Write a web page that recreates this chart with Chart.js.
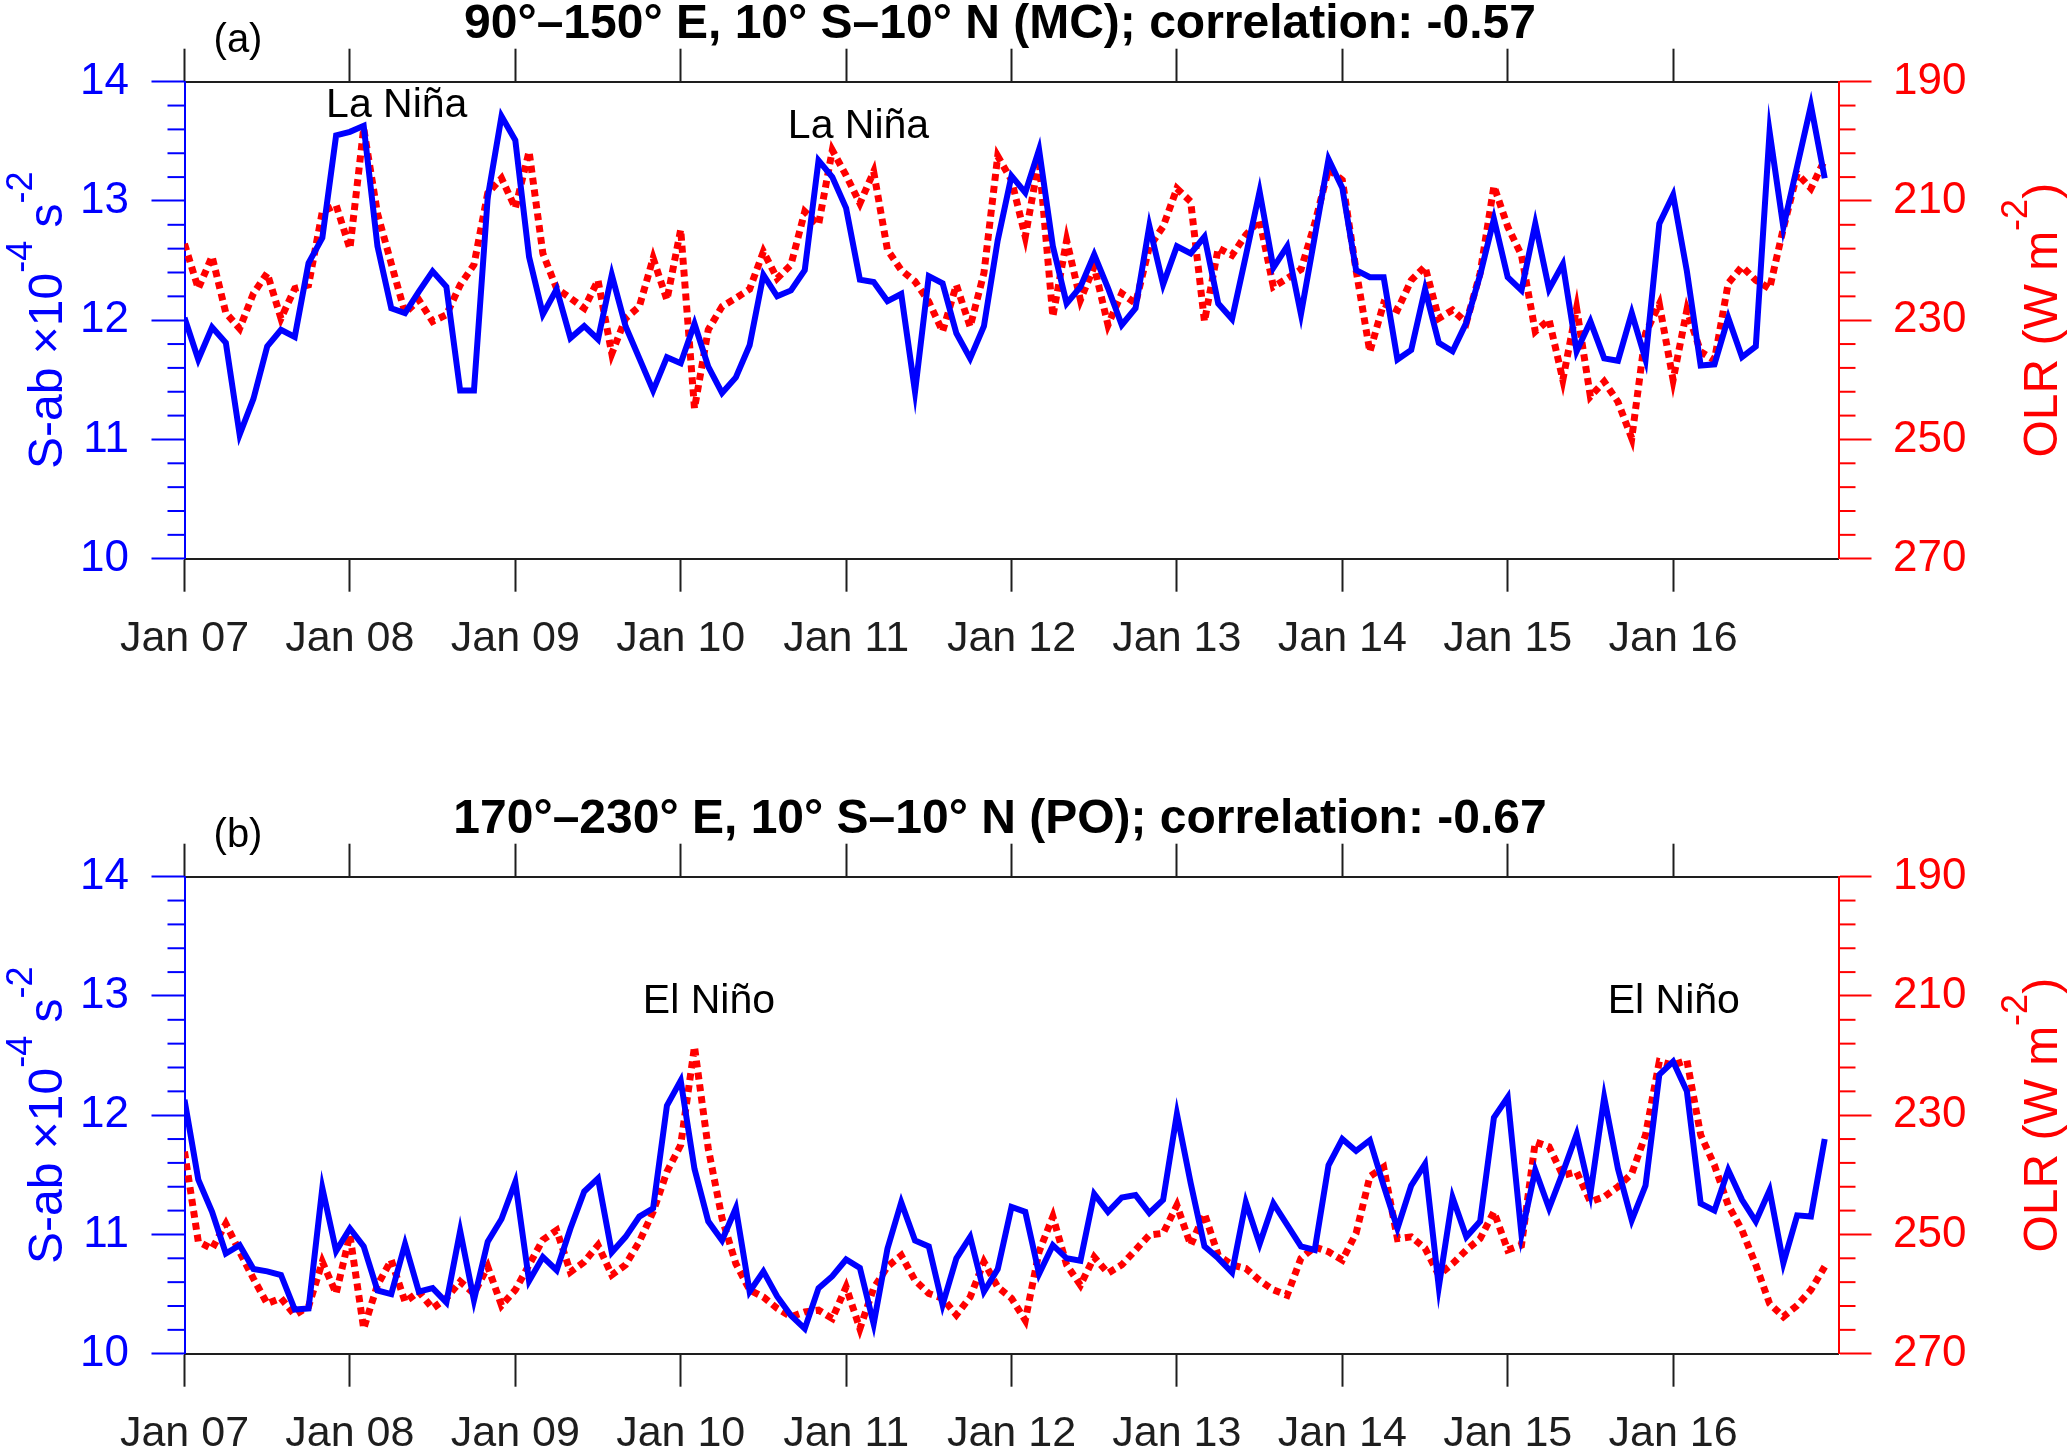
<!DOCTYPE html>
<html><head><meta charset="utf-8">
<script src="https://cdn.jsdelivr.net/npm/chart.js@4.4.1/dist/chart.umd.min.js"></script>
<style>
html,body{margin:0;padding:0;background:#fff;width:2067px;height:1450px;overflow:hidden;}
.panel{position:absolute;left:0;}
canvas{display:block;}
</style></head><body>
<div class="panel" style="top:0px"><canvas id="cA" width="2067" height="795"></canvas></div>
<div class="panel" style="top:795px"><canvas id="cB" width="2067" height="655"></canvas></div>
<script>
// ---------------- DATA ----------------
const tickMonths = [0, 12, 24, 36, 48, 60, 72, 84, 96, 108];
const tickLabels = ['Jan 07','Jan 08','Jan 09','Jan 10','Jan 11','Jan 12','Jan 13','Jan 14','Jan 15','Jan 16'];

// Panel (a): 90-150E, 10S-10N (MC), monthly Jan 2007 - Dec 2016
const saMC = [
 12.02,11.67,11.94,11.81,11.04,11.34,11.78,11.92,11.86,12.48,12.69,13.55,
 13.58,13.63,12.62,12.10,12.06,12.24,12.41,12.28,11.41,11.41,13.03,13.71,
 13.51,12.53,12.05,12.26,11.85,11.95,11.84,12.38,11.95,11.68,11.41,11.69,
 11.64,11.97,11.61,11.39,11.52,11.79,12.38,12.20,12.25,12.42,13.34,13.20,
 12.94,12.34,12.32,12.16,12.22,11.40,12.37,12.31,11.89,11.68,11.95,12.67,
 13.21,13.07,13.43,12.62,12.14,12.28,12.55,12.27,11.96,12.10,12.79,12.30,
 12.62,12.56,12.70,12.14,12.01,12.54,13.08,12.44,12.62,12.05,12.70,13.35,
 13.11,12.42,12.36,12.36,11.67,11.75,12.26,11.81,11.74,11.98,12.38,12.85,
 12.36,12.25,12.81,12.26,12.47,11.74,11.99,11.68,11.66,12.06,11.67,12.81,
 13.05,12.41,11.62,11.63,12.02,11.69,11.78,13.58,12.78,13.29,13.80,13.19
];
const olrMC = [
 217.2,224.7,219.3,228.8,231.4,225.5,222.1,229.7,224.7,224.1,211.8,210.7,
 218.0,197.8,212.1,220.5,228.8,226.6,230.2,229.1,224.1,220.7,208.7,206.2,
 211.2,201.7,218.8,224.7,226.3,228.0,223.3,235.6,229.7,227.7,219.6,226.6,
 214.8,244.8,231.6,227.7,226.3,224.8,218.5,223.0,220.7,211.8,214.0,201.5,
 205.7,210.4,205.1,218.2,221.6,223.5,226.9,231.9,224.1,231.1,222.1,202.5,
 206.5,216.0,203.1,229.4,216.6,226.6,221.0,230.8,225.5,227.2,217.7,214.3,
 207.9,210.1,230.2,217.9,219.1,215.7,213.2,224.4,223.0,221.5,213.8,204.7,
 206.5,221.6,235.3,227.2,228.3,223.3,221.0,229.7,228.3,230.4,222.1,207.5,
 214.3,219.1,231.9,229.9,240.0,228.0,242.8,240.3,243.7,249.8,232.2,227.3,
 240.0,228.3,235.3,236.7,223.8,221.0,223.3,224.7,214.6,205.4,207.9,203.1
];

// Panel (b): 170-230E, 10S-10N (PO)
const saPO = [
 12.13,11.46,11.19,10.84,10.91,10.71,10.69,10.66,10.37,10.38,11.39,10.86,
 11.05,10.90,10.53,10.50,10.92,10.52,10.55,10.43,11.03,10.45,10.94,11.13,
 11.44,10.61,10.81,10.70,11.05,11.36,11.47,10.85,10.98,11.15,11.22,12.08,
 12.29,11.55,11.11,10.95,11.22,10.52,10.69,10.48,10.32,10.21,10.55,10.65,
 10.79,10.72,10.25,10.88,11.27,10.95,10.90,10.41,10.80,10.98,10.52,10.71,
 11.23,11.19,10.67,10.91,10.80,10.78,11.34,11.19,11.31,11.33,11.18,11.29,
 12.01,11.43,10.90,10.80,10.68,11.27,10.92,11.26,11.08,10.90,10.87,11.58,
 11.80,11.70,11.79,11.41,11.05,11.41,11.59,10.56,11.31,10.98,11.11,11.98,
 12.15,11.00,11.54,11.22,11.52,11.84,11.34,12.15,11.55,11.12,11.41,12.34,
 12.45,12.20,11.26,11.20,11.54,11.29,11.11,11.37,10.76,11.16,11.15,11.80
];
const olrPO = [
 236.1,251.2,252.4,248.2,252.9,257.4,261.6,260.7,263.5,262.1,254.6,259.9,
 250.1,265.8,258.5,254.3,261.3,259.6,262.4,260.7,257.9,259.9,255.4,261.9,
 259.3,255.1,250.9,249.3,256.3,254.6,251.8,256.8,255.1,251.2,246.2,239.5,
 235.0,218.5,235.6,247.3,254.9,259.3,260.5,262.4,263.8,263.0,262.7,264.1,
 258.8,265.8,259.0,255.4,253.5,257.7,259.9,260.7,263.5,260.5,254.6,258.8,
 260.7,264.4,252.9,247.0,255.1,258.5,253.8,256.5,255.1,252.6,250.1,249.8,
 245.1,251.8,246.5,253.5,255.1,255.7,257.7,259.3,260.2,254.0,252.1,252.9,
 254.3,249.8,240.3,238.7,250.7,250.4,252.3,256.8,254.9,252.6,250.7,246.2,
 252.6,251.8,234.5,235.3,240.1,239.5,244.5,243.7,242.0,239.8,233.3,221.0,
 221.6,220.8,233.3,238.4,245.1,249.3,255.1,261.6,263.8,261.9,259.3,255.4
];

const titleA = '90\u00b0\u2013150\u00b0 E, 10\u00b0 S\u201310\u00b0 N (MC); correlation: -0.57';
const titleB = '170\u00b0\u2013230\u00b0 E, 10\u00b0 S\u201310\u00b0 N (PO); correlation: -0.67';
const notesA = [{text:'La Ni\u00f1a', x:15.4, y:13.70}, {text:'La Ni\u00f1a', x:48.9, y:13.53}];
const notesB = [{text:'El Ni\u00f1o', x:38.05, y:12.86}, {text:'El Ni\u00f1o', x:108.05, y:12.86}];

// ---------------- STYLE ----------------
const FONT = '"Liberation Sans", Arial, Helvetica, sans-serif';
const BLUE = '#0000ff', RED = '#ff0000', INK = '#1e1e1e';

function drawRich(ctx, parts, mainSize, supSize, rise) {
  let total = 0;
  parts.forEach(p => {
    ctx.font = (p.sup ? supSize : mainSize) + 'px ' + FONT;
    p.w = ctx.measureText(p.t).width; total += p.w;
  });
  let x = -total / 2;
  parts.forEach(p => {
    ctx.font = (p.sup ? supSize : mainSize) + 'px ' + FONT;
    ctx.fillText(p.t, x, p.sup ? -rise : 0);
    x += p.w;
  });
}

const decorPlugin = {
  id: 'decor',
  afterDraw(chart, args, opts) {
    const ctx = chart.ctx;
    const ys = chart.scales.y, yr = chart.scales.y2, xs = chart.scales.x;
    const ca = chart.chartArea;
    ctx.save();
    // minor ticks
    ctx.lineWidth = 2; ctx.strokeStyle = BLUE;
    for (let k = 0; k <= 20; k++) {
      if (k % 5 === 0) continue;
      const py = ys.getPixelForValue(10 + k * 0.2);
      ctx.beginPath(); ctx.moveTo(ca.left - 17, py); ctx.lineTo(ca.left, py); ctx.stroke();
    }
    ctx.strokeStyle = RED;
    for (let k = 0; k <= 20; k++) {
      if (k % 5 === 0) continue;
      const py = yr.getPixelForValue(190 + k * 4);
      ctx.beginPath(); ctx.moveTo(ca.right, py); ctx.lineTo(ca.right + 17, py); ctx.stroke();
    }
    // title and panel tag
    ctx.fillStyle = '#000';
    ctx.textAlign = 'center'; ctx.textBaseline = 'alphabetic';
    ctx.font = 'bold 48px ' + FONT;
    ctx.fillText(opts.title, 1000, 38);
    ctx.font = '40px ' + FONT;
    ctx.fillText(opts.tag, 238, 52);
    // annotations (anchored in data coordinates)
    ctx.font = '41px ' + FONT;
    opts.notes.forEach(n => {
      ctx.fillText(n.text, xs.getPixelForValue(n.x), ys.getPixelForValue(n.y));
    });
    // axis titles
    const cy = (ca.top + ca.bottom) / 2;
    ctx.textAlign = 'left';
    ctx.save();
    ctx.fillStyle = BLUE;
    ctx.translate(62, cy); ctx.rotate(-Math.PI / 2);
    drawRich(ctx, [{t:'S-ab \u00d710'},{t:'-4',sup:true},{t:' s'},{t:'-2',sup:true}], 48, 36, 30);
    ctx.restore();
    ctx.save();
    ctx.fillStyle = RED;
    ctx.translate(2057, cy); ctx.rotate(-Math.PI / 2);
    drawRich(ctx, [{t:'OLR (W m'},{t:'-2',sup:true},{t:')'}], 48, 36, 30);
    ctx.restore();
    ctx.restore();
  }
};

function xTicks(scale) { scale.ticks = tickMonths.map(v => ({value: v})); }

function makeChart(id, sa, olr, title, tag, notes, H) {
  const months = sa.map((_, i) => i);
  return new Chart(document.getElementById(id), {
    type: 'line',
    data: {
      datasets: [
        { label: 'OLR', data: months.map(i => ({x: i, y: olr[i]})), yAxisID: 'y2', xAxisID: 'x',
          borderColor: RED, borderWidth: 7, borderDash: [7, 5], borderCapStyle: 'butt',
          pointRadius: 0, tension: 0, fill: false, order: 2 },
        { label: 'S-ab', data: months.map(i => ({x: i, y: sa[i]})), yAxisID: 'y', xAxisID: 'x',
          borderColor: BLUE, borderWidth: 6, borderJoinStyle: 'miter',
          pointRadius: 0, tension: 0, fill: false, order: 1 }
      ]
    },
    options: {
      responsive: false, animation: false, devicePixelRatio: 1,
      layout: { padding: { left: 0, right: 0, top: 48.7, bottom: H - 558.7 - 96.3 } },
      plugins: { legend: { display: false }, tooltip: { enabled: false },
                 decor: { title: title, tag: tag, notes: notes } },
      scales: {
        x: { type: 'linear', position: 'bottom', min: 0, max: 120,
             afterBuildTicks: xTicks,
             ticks: { autoSkip: false, maxRotation: 0, minRotation: 0, padding: 22, color: INK,
                      font: { family: FONT, size: 43 },
                      callback: v => tickLabels[tickMonths.indexOf(v)] },
             grid: { drawOnChartArea: false, drawTicks: true, tickLength: 33, tickWidth: 2, tickColor: INK },
             border: { display: true, color: INK, width: 2 },
             afterFit: s => { s.height = 96.3; } },
        xTop: { type: 'linear', position: 'top', min: 0, max: 120,
             afterBuildTicks: xTicks,
             ticks: { display: false },
             grid: { drawOnChartArea: false, drawTicks: true, tickLength: 33, tickWidth: 2, tickColor: INK },
             border: { display: true, color: INK, width: 2 },
             afterFit: s => { s.height = 33; } },
        y: { position: 'left', min: 10, max: 14,
             ticks: { stepSize: 1, padding: 22.5, color: BLUE, font: { family: FONT, size: 44 } },
             grid: { drawOnChartArea: false, drawTicks: true, tickLength: 33, tickWidth: 2, tickColor: BLUE },
             border: { display: true, color: BLUE, width: 2 },
             afterFit: s => { s.width = 184.5; } },
        y2: { position: 'right', min: 190, max: 270, reverse: true,
             ticks: { stepSize: 20, padding: 21.5, color: RED, font: { family: FONT, size: 44 } },
             grid: { drawOnChartArea: false, drawTicks: true, tickLength: 33, tickWidth: 2, tickColor: RED },
             border: { display: true, color: RED, width: 2 },
             afterFit: s => { s.width = 228.5; } }
      }
    },
    plugins: [decorPlugin]
  });
}

makeChart('cA', saMC, olrMC, titleA, '(a)', notesA, 795);
makeChart('cB', saPO, olrPO, titleB, '(b)', notesB, 655);
</script>
</body></html>
